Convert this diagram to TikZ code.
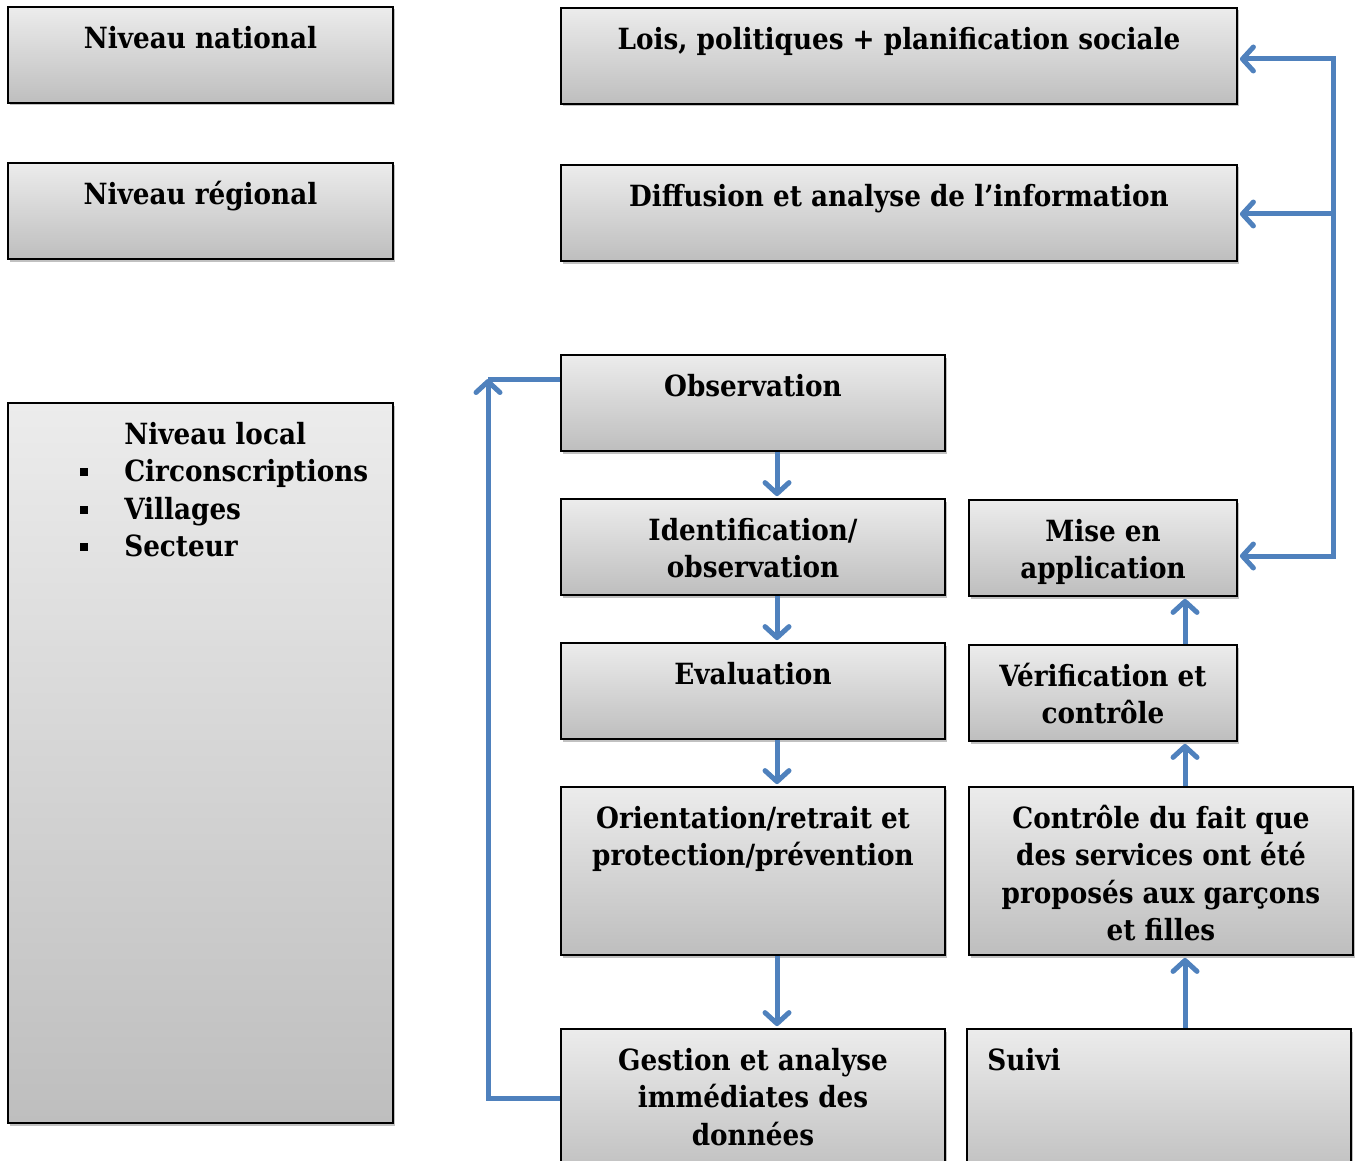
\documentclass[tikz,border=0pt]{standalone}
\usepackage{fontspec}
\setmainfont{DejaVu Serif Condensed}
\usetikzlibrary{arrows.meta,fit,shadows}
\definecolor{boxtop}{RGB}{236,236,236}
\definecolor{boxbot}{RGB}{190,190,190}
\definecolor{flow}{RGB}{79,129,189}
\newcommand\tl[1]{\begin{tabular}[t]{@{}c@{}}#1\end{tabular}}
\newcommand\sq{\llap{\rule[0.18em]{8pt}{8pt}\hspace{36pt}}}
\tikzset{
  box/.style={draw=black, line width=1.8pt, inner sep=0pt, top color=boxtop, bottom color=boxbot,
    drop shadow={shadow xshift=2pt, shadow yshift=-2.5pt, opacity=.35, fill=black!70}},
  lbl/.style={inner sep=0pt, font=\fontsize{29.2}{37.5}\selectfont\bfseries},
  arr/.style={draw=flow, line width=5pt, -{Straight Barb[length=11pt,width=24pt,round]}, shorten >=2pt},
  flowline/.style={draw=flow, line width=5pt}
}
\begin{document}
\begin{tikzpicture}[x=1pt,y=-1pt]
\useasboundingbox (0,0) rectangle (1360,1161);
% boxes
\node[box, fit={(8,7)(393,103)}] (nat) {};
\node[box, fit={(561,8)(1237,104)}] (lois) {};
\node[box, fit={(8,163)(393,259)}] (reg) {};
\node[box, fit={(561,165)(1237,261)}] (diff) {};
\node[box, fit={(8,403)(393,1123)}] (loc) {};
\node[box, fit={(561,355)(945,451)}] (obs) {};
\node[box, fit={(561,499)(945,595)}] (ident) {};
\node[box, fit={(969,500)(1237,596)}] (mise) {};
\node[box, fit={(561,643)(945,739)}] (eval) {};
\node[box, fit={(969,645)(1237,741)}] (verif) {};
\node[box, fit={(561,787)(945,955)}] (orient) {};
\node[box, fit={(969,787)(1353,955)}] (ctrl) {};
\node[box, fit={(561,1029)(945,1180)}] (gest) {};
\node[box, fit={(967,1029)(1351,1180)}] (suivi) {};
% texts
\node[lbl, anchor=base] (nat-t) at ([yshift=-42pt]nat.north) {\tl{Niveau national}};
\node[lbl, anchor=base] (lois-t) at ([yshift=-42pt]lois.north) {\tl{Lois, politiques + planification sociale}};
\node[lbl, anchor=base] (reg-t) at ([yshift=-42pt]reg.north) {\tl{Niveau régional}};
\node[lbl, anchor=base] (diff-t) at ([yshift=-42pt]diff.north) {\tl{Diffusion et analyse de l’information}};
\node[lbl, anchor=base west] (loc-t) at ([xshift=117pt,yshift=-42pt]loc.north west)
  {\begin{tabular}[t]{@{}l@{}}Niveau local\\ \sq Circonscriptions\\ \sq Villages\\ \sq Secteur\end{tabular}};
\node[lbl, anchor=base] (obs-t) at ([yshift=-42pt]obs.north) {\tl{Observation}};
\node[lbl, anchor=base] (ident-t) at ([yshift=-42pt]ident.north) {\tl{Identification/\\observation}};
\node[lbl, anchor=base] (mise-t) at ([yshift=-42pt]mise.north) {\tl{Mise en\\application}};
\node[lbl, anchor=base] (eval-t) at ([yshift=-42pt]eval.north) {\tl{Evaluation}};
\node[lbl, anchor=base] (verif-t) at ([yshift=-42pt]verif.north) {\tl{Vérification et\\contrôle}};
\node[lbl, anchor=base] (orient-t) at ([yshift=-42pt]orient.north) {\tl{Orientation/retrait et\\protection/prévention}};
\node[lbl, anchor=base] (ctrl-t) at ([yshift=-42pt]ctrl.north) {\tl{Contrôle du fait que\\des services ont été\\proposés aux garçons\\et filles}};
\node[lbl, anchor=base] (gest-t) at ([yshift=-42pt]gest.north) {\tl{Gestion et analyse\\immédiates des\\données}};
\node[lbl, anchor=base west] (suivi-t) at ([xshift=21pt,yshift=-42pt]suivi.north west) {\tl{Suivi}};
% helper coordinates
\coordinate (cl) at (777,0);
\coordinate (cr) at (1185,0);
\coordinate (r1) at (1333,59);
\coordinate (r2) at (1333,214);
\coordinate (r3) at (1333,556);
\coordinate (lb) at (488,1098);
\coordinate (lt) at (488,379);
% down arrows
\draw[arr] (obs.south -| cl) -- (ident.north -| cl);
\draw[arr] (ident.south -| cl) -- (eval.north -| cl);
\draw[arr] (eval.south -| cl) -- (orient.north -| cl);
\draw[arr] (orient.south -| cl) -- (gest.north -| cl);
% up arrows
\draw[arr] (suivi.north -| cr) -- (ctrl.south -| cr);
\draw[arr] (ctrl.north -| cr) -- (verif.south -| cr);
\draw[arr] (verif.north -| cr) -- (mise.south -| cr);
% right bracket
\draw[flowline] ([yshift=2.5pt]r1) -- ([yshift=-2.5pt]r3);
\draw[arr] (r1) -- (lois.east |- r1);
\draw[arr] (r2) -- (diff.east |- r2);
\draw[arr] (r3) -- (mise.east |- r3);
% left loop
\draw[arr, shorten >=0pt] (gest.west |- lb) -- (lb) -- (lt);
\draw[flowline] (lt) -- (obs.west |- lt);
\end{tikzpicture}
\end{document}
